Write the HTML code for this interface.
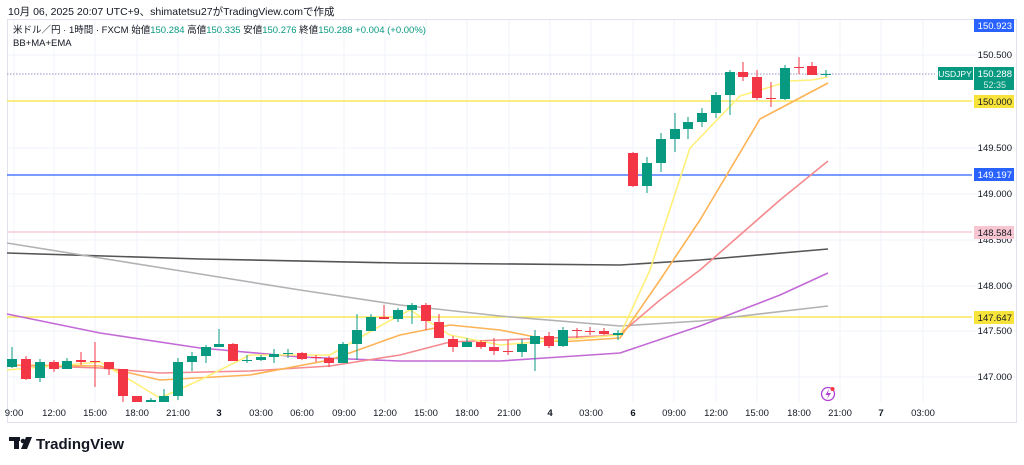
<!DOCTYPE html>
<html><head><meta charset="utf-8"><style>
body{margin:0;background:#fff;width:1024px;height:465px;overflow:hidden;font-family:"Liberation Sans","Noto Sans CJK JP",sans-serif}
svg{position:absolute;left:0;top:0}
</style></head><body>
<svg id="s" width="1024" height="465" xmlns="http://www.w3.org/2000/svg" font-family="Liberation Sans, Noto Sans CJK JP, sans-serif">
<text x="8" y="15" font-size="10.5" fill="#131722">10月 06, 2025 20:07 UTC+9、shimatetsu27がTradingView.comで作成</text>
<rect x="7.5" y="19.5" width="1009" height="403" fill="none" stroke="#e0e3eb"/>
<g stroke="#f0f3fa" stroke-width="1" id="grid"></g>
<text x="13" y="33" font-size="9.5" fill="#131722">米ドル／円 · 1時間 · FXCM  始値<tspan fill="#089981">150.284</tspan>  高値<tspan fill="#089981">150.335</tspan>  安値<tspan fill="#089981">150.276</tspan>  終値<tspan fill="#089981">150.288</tspan>  <tspan fill="#089981">+0.004 (+0.00%)</tspan></text>
<text x="13" y="46" font-size="9.5" fill="#131722">BB+MA+EMA</text>
<line x1="7" y1="101" x2="972" y2="101" stroke="#f7e33a" stroke-width="1.2"/>
<line x1="7" y1="317" x2="972" y2="317" stroke="#f7e33a" stroke-width="1.2"/>
<line x1="7" y1="175" x2="972" y2="175" stroke="#2962ff" stroke-width="1.3"/>
<line x1="7" y1="232" x2="972" y2="232" stroke="#f5c1cc" stroke-width="1.2"/>
<line x1="7" y1="74" x2="935" y2="74" stroke="#9c8fc8" stroke-width="1" stroke-dasharray="1.5,1.5"/>
<g fill="none" stroke-width="1.6" stroke-linejoin="round">
<polyline stroke="#555" points="7,253 200,259 400,263 620,265 700,260 828,249"/>
<polyline stroke="#b2b2b2" points="7,243 100,258 200,274 300,290 400,305 500,316 620,326 700,321 828,306"/>
<polyline stroke="#c36ad6" points="7,314 100,333 200,348 300,357 400,361 500,361 560,357 620,353 700,326 780,295 828,273"/>
<polyline stroke="#f48a8f" points="7,365 100,368 160,373 250,371 330,366 400,355 450,342 500,340 600,336 620,334 660,300 700,270 740,235 780,200 828,161"/>
<polyline stroke="#fdb355" points="7,365 100,366 160,380 250,375 330,360 400,335 450,325 500,330 560,342 620,338 660,280 700,220 760,119 828,83"/>
<polyline stroke="#fff07a" points="7,370 100,362 160,398 200,380 250,355 330,355 380,326 410,310 450,335 500,345 560,340 620,335 650,270 690,148 740,96 790,81 812,80 828,77"/>
</g>
<g id="c"></g>
<g font-size="9.5" fill="#131722" text-anchor="middle" id="xl"></g>
<g font-size="9.5" fill="#131722" text-anchor="end">
<text x="1012" y="58">150.500</text><text x="1012" y="151">149.500</text><text x="1012" y="197">149.000</text><text x="1012" y="243">148.500</text><text x="1012" y="289">148.000</text><text x="1012" y="334">147.500</text><text x="1012" y="380">147.000</text>
</g>
<rect x="974" y="19" width="40" height="13" fill="#2962ff"/><text x="1012" y="29" font-size="9.5" fill="#fff" text-anchor="end">150.923</text>
<rect x="938" y="67" width="35" height="13" fill="#089981"/><text x="955" y="77" font-size="8.5" fill="#fff" text-anchor="middle">USDJPY</text>
<rect x="974" y="67" width="40" height="23" fill="#089981"/><text x="1012" y="77" font-size="9.5" fill="#fff" text-anchor="end">150.288</text><text x="1006" y="88" font-size="9" fill="#d0ece6" text-anchor="end">52:35</text>
<rect x="974" y="95" width="40" height="13" fill="#f7e33a"/><text x="1012" y="105" font-size="9.5" fill="#131722" text-anchor="end">150.000</text>
<rect x="974" y="168" width="40" height="13" fill="#2962ff"/><text x="1012" y="178" font-size="9.5" fill="#fff" text-anchor="end">149.197</text>
<rect x="974" y="226" width="40" height="13" fill="#f8c6d0"/><text x="1012" y="236" font-size="9.5" fill="#131722" text-anchor="end">148.584</text>
<rect x="974" y="311" width="40" height="13" fill="#f7e33a"/><text x="1012" y="321" font-size="9.5" fill="#131722" text-anchor="end">147.647</text>
<circle cx="828" cy="394" r="6.5" fill="none" stroke="#b03fd6" stroke-width="1.3"/><path d="M829 389 L825.5 395 L828.5 395 L827 399 L831 393 L828 393 Z" fill="#b03fd6"/><circle cx="832.5" cy="389" r="2" fill="#f23645"/>
<g fill="#131722"><rect x="9" y="437" width="11" height="4"/><rect x="14" y="437" width="5" height="12"/><circle cx="23" cy="441" r="2.3"/><path d="M26 437 L32 437 L27 449 L21 449 Z"/></g>
<text x="36" y="449" font-size="15" font-weight="bold" fill="#131722">TradingView</text>
</svg>
<script>
var ns="http://www.w3.org/2000/svg",g=document.getElementById('grid');
function el(p,t,a){var e=document.createElementNS(ns,t);for(var k in a)e.setAttribute(k,a[k]);p.appendChild(e);return e;}
[55,101,148,194,240,286,331,377].forEach(function(y){el(g,'line',{x1:8,x2:1016,y1:y,y2:y});});
var xs=[14,54,95,137,178,219,261,302,344,385,426,467,509,550,591,633,674,716,757,799,840,881,923];
var lb=["9:00","12:00","15:00","18:00","21:00","3","03:00","06:00","09:00","12:00","15:00","18:00","21:00","4","03:00","6","09:00","12:00","15:00","18:00","21:00","7","03:00"];
var xl=document.getElementById('xl');
xs.forEach(function(x,i){el(g,'line',{x1:x,x2:x,y1:20,y2:402});var t=el(xl,'text',{x:x,y:416,'font-weight':(lb[i].length<2?'bold':'normal')});t.textContent=lb[i];});
// x, open, close, high, low (pixel y)
var C=[[12,367,359,347,368],[26,359,379,356,380],[40,378,362,359,382],[54,362,369,360,372],[67,369,361,358,369],[81,360,362,352,365],[95,361,362,342,387],[109,362,369,362,375],[123,369,396,369,402],[137,396,403,396,403],[151,402,400,398,403],[164,403,396,389,403],[178,396,362,358,400],[192,362,356,352,371],[206,356,347,345,363],[219,347,344,329,347],[233,344,361,343,361],[247,361,360,355,363],[261,360,357,355,361],[274,357,354,349,363],[288,354,353,349,358],[302,353,359,352,360],[316,357,358,355,362],[329,358,363,356,367],[343,363,344,342,363],[357,344,330,314,360],[371,331,317,314,331],[384,317,319,305,319],[398,319,310,308,322],[412,310,305,303,324],[426,305,321,303,330],[439,322,338,314,338],[453,339,347,336,352],[467,347,342,338,347],[481,342,347,340,349],[494,347,351,338,355],[508,351,352,340,355],[522,352,344,339,357],[535,344,336,330,371],[549,336,346,332,348],[563,346,330,327,347],[577,330,331,328,338],[590,331,331,327,335],[604,331,334,328,335],[618,335,333,330,340],[633,153,186,152,187],[647,186,163,157,193],[661,163,139,133,172],[675,139,129,113,152],[688,129,122,117,139],[702,122,113,108,127],[716,113,95,92,118],[730,95,72,70,115],[743,72,77,62,81],[757,77,98,70,100],[771,98,98,82,107],[785,99,68,65,100],[799,67,67,57,74],[812,66,75,62,75],[826,75,74,70,77]];
var c=document.getElementById('c');
C.forEach(function(d){var up=d[2]<d[1],col=up?'#089981':'#f23645';
el(c,'line',{x1:d[0],x2:d[0],y1:Math.max(d[3],20),y2:Math.min(d[4],402),stroke:col,'stroke-width':1});
var t=Math.min(d[1],d[2]),b=Math.min(Math.max(d[1],d[2]),402);
el(c,'rect',{x:d[0]-5,y:t,width:10,height:Math.max(b-t,1),fill:col});});
</script>
</body></html>
